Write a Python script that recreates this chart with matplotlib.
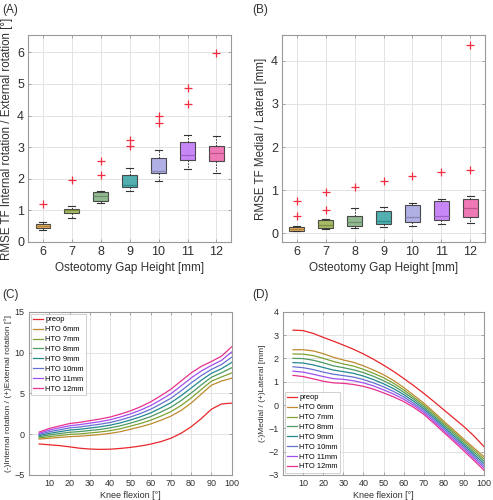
import matplotlib
matplotlib.use("Agg")
import matplotlib.pyplot as plt
import numpy as np

plt.rcParams['font.family'] = ['Liberation Sans', 'DejaVu Sans']

# ---------------- data ----------------
gap_labels = ['6', '7', '8', '9', '10', '11', '12']
box_colors = ['#E0A450', '#9DB455', '#86B386', '#3FA8A8', '#A8A8E2', '#C27AF6', '#EE6AAE']

# Panel A: RMSE internal/external rotation [deg]
a_q1 = [0.43, 0.91, 1.31, 1.74, 2.17, 2.60, 2.56]
a_med = [0.50, 1.00, 1.45, 1.80, 2.26, 2.74, 2.81]
a_q3 = [0.58, 1.05, 1.58, 2.13, 2.66, 3.16, 3.05]
a_lo = [0.39, 0.76, 1.23, 1.62, 1.94, 2.31, 2.18]
a_hi = [0.64, 1.15, 1.62, 2.33, 2.90, 3.40, 3.34]
a_out = [[1.21], [1.97], [2.13, 2.56], [3.03, 3.24], [3.77, 3.98], [4.37, 4.87], [5.98]]

# Panel B: RMSE medial/lateral [mm]
b_q1 = [0.06, 0.12, 0.16, 0.21, 0.27, 0.31, 0.38]
b_med = [0.10, 0.19, 0.27, 0.29, 0.37, 0.41, 0.59]
b_q3 = [0.14, 0.30, 0.41, 0.51, 0.65, 0.76, 0.79]
b_lo = [0.05, 0.09, 0.13, 0.14, 0.18, 0.21, 0.25]
b_hi = [0.16, 0.33, 0.59, 0.62, 0.70, 0.79, 0.87]
b_out = [[0.40, 0.75], [0.55, 0.96], [1.08], [1.21], [1.32], [1.43], [1.48, 4.37]]

flexion = [5, 10, 15, 20, 25, 30, 35, 40, 45, 50, 55, 60, 65, 70, 75, 80, 85, 90, 95, 100]
series_names = ['preop', 'HTO 6mm', 'HTO 7mm', 'HTO 8mm', 'HTO 9mm', 'HTO 10mm', 'HTO 11mm', 'HTO 12mm']
line_colors = ['#E8262B', '#BF8A2E', '#7EA232', '#4E9A62', '#23898F', '#6670D2', '#A04FF0', '#E8308C']

# Panel C: internal(-)/external(+) rotation [deg]
c_preop = [-1.2, -1.3, -1.4, -1.55, -1.72, -1.82, -1.86, -1.84, -1.75, -1.62, -1.45, -1.22, -0.92, -0.5, 0.1, 0.9, 1.9, 3.05, 3.7, 3.8]
c_6 = [-0.6, -0.5, -0.4, -0.3, -0.25, -0.15, -0.05, 0.1, 0.3, 0.6, 0.9, 1.25, 1.7, 2.2, 2.9, 3.8, 4.9, 6.0, 6.5, 6.85]
c_7 = [-0.46, -0.3, -0.17, -0.03, 0.03, 0.15, 0.27, 0.43, 0.66, 0.98, 1.31, 1.7, 2.2, 2.75, 3.5, 4.42, 5.47, 6.48, 7.01, 7.49]
c_8 = [-0.32, -0.1, 0.07, 0.23, 0.32, 0.45, 0.58, 0.77, 1.02, 1.35, 1.72, 2.15, 2.7, 3.3, 4.1, 5.03, 6.03, 6.97, 7.52, 8.13]
c_9 = [-0.18, 0.1, 0.3, 0.5, 0.6, 0.75, 0.9, 1.1, 1.38, 1.73, 2.13, 2.6, 3.2, 3.85, 4.7, 5.65, 6.6, 7.45, 8.02, 8.78]
c_10 = [-0.04, 0.3, 0.53, 0.77, 0.88, 1.05, 1.22, 1.43, 1.73, 2.1, 2.53, 3.05, 3.7, 4.4, 5.3, 6.27, 7.17, 7.93, 8.53, 9.42]
c_11 = [0.1, 0.5, 0.77, 1.03, 1.17, 1.35, 1.53, 1.77, 2.09, 2.48, 2.94, 3.5, 4.2, 4.95, 5.9, 6.88, 7.73, 8.42, 9.04, 10.06]
c_12 = [0.25, 0.7, 1.0, 1.3, 1.45, 1.65, 1.85, 2.1, 2.45, 2.85, 3.35, 3.95, 4.7, 5.5, 6.5, 7.5, 8.3, 8.9, 9.55, 10.7]

# Panel D: medial(-)/lateral(+) [mm]
d_preop = [3.21, 3.19, 3.07, 2.9, 2.74, 2.57, 2.39, 2.19, 1.96, 1.71, 1.44, 1.14, 0.83, 0.5, 0.15, -0.21, -0.57, -0.93, -1.33, -1.79]
d_6 = [2.37, 2.37, 2.32, 2.2, 2.05, 1.93, 1.83, 1.68, 1.5, 1.3, 1.05, 0.75, 0.42, 0.08, -0.3, -0.7, -1.08, -1.47, -1.85, -2.22]
d_7 = [2.19, 2.18, 2.12, 2.0, 1.87, 1.76, 1.67, 1.53, 1.36, 1.17, 0.93, 0.65, 0.33, 0.0, -0.38, -0.78, -1.16, -1.55, -1.94, -2.32]
d_8 = [2.0, 1.99, 1.92, 1.81, 1.68, 1.6, 1.51, 1.39, 1.23, 1.04, 0.82, 0.55, 0.25, -0.08, -0.46, -0.86, -1.24, -1.64, -2.03, -2.41]
d_9 = [1.82, 1.8, 1.72, 1.61, 1.5, 1.43, 1.36, 1.24, 1.09, 0.91, 0.7, 0.45, 0.16, -0.16, -0.54, -0.94, -1.33, -1.72, -2.12, -2.51]
d_10 = [1.64, 1.6, 1.52, 1.41, 1.32, 1.26, 1.2, 1.09, 0.95, 0.78, 0.58, 0.35, 0.07, -0.24, -0.62, -1.02, -1.41, -1.8, -2.2, -2.61]
d_11 = [1.45, 1.41, 1.32, 1.22, 1.13, 1.1, 1.04, 0.95, 0.82, 0.65, 0.47, 0.25, -0.01, -0.32, -0.7, -1.1, -1.49, -1.88, -2.29, -2.7]
d_12 = [1.27, 1.22, 1.12, 1.02, 0.95, 0.93, 0.88, 0.8, 0.68, 0.52, 0.35, 0.15, -0.1, -0.4, -0.78, -1.18, -1.57, -1.97, -2.38, -2.8]

# ---------------- styling ----------------
spine_c = '#9A9A9A'
grid_c = '#E3E3E3'
text_c = '#303030'

fig = plt.figure(figsize=(4.93, 5.00), dpi=100)

def style_axes(ax, tick_fs):
    for s in ax.spines.values():
        s.set_color(spine_c)
        s.set_linewidth(0.8)
    ax.tick_params(direction='in', length=2.5, width=0.6, color=spine_c,
                   labelsize=tick_fs, labelcolor=text_c, top=True, right=True,
                   labeltop=False, labelright=False, pad=3)
    ax.grid(True, color=grid_c, linewidth=0.7)
    ax.set_axisbelow(True)

def darker(c, f=0.7):
    rgb = np.array(matplotlib.colors.to_rgb(c))
    return tuple(rgb * f)

def draw_box(ax, q1, med, q3, lo, hi, out):
    stats = []
    for i in range(len(q1)):
        stats.append(dict(q1=q1[i], med=med[i], q3=q3[i], whislo=lo[i], whishi=hi[i],
                          fliers=out[i], label=gap_labels[i]))
    bp = ax.bxp(stats, positions=range(1, len(q1) + 1), widths=0.5, patch_artist=True,
                capwidths=0.25,
                boxprops=dict(linewidth=0.8, edgecolor='#3A3A3A'),
                whiskerprops=dict(linestyle=(0, (1.5, 1.5)), linewidth=0.7, color='#333333'),
                capprops=dict(linewidth=0.8, color='#333333'),
                flierprops=dict(marker='+', markeredgecolor='#F03040', markersize=6,
                                markeredgewidth=0.9, linestyle='none'),
                medianprops=dict(linewidth=0.9))
    for patch, c in zip(bp['boxes'], box_colors):
        patch.set_facecolor(c)
        patch.set_alpha(0.9)
    for m, c in zip(bp['medians'], box_colors):
        m.set_color(darker(c, 0.8))
    ax.set_xlim(0.5, len(q1) + 0.5)

# Panel A
axA = fig.add_axes([0.0574, 0.516, 0.411, 0.414])
draw_box(axA, a_q1, a_med, a_q3, a_lo, a_hi, a_out)
axA.set_ylim(0, 6.55)
axA.set_yticks(range(0, 7))
style_axes(axA, 9)
axA.set_xlabel('Osteotomy Gap Height [mm]', fontsize=8.5, color=text_c, labelpad=3)
axA.set_ylabel('RMSE TF Internal rotation / External rotation [°]', fontsize=8.3,
               color=text_c, labelpad=3)

# Panel B
axB = fig.add_axes([0.5724, 0.516, 0.411, 0.414])
draw_box(axB, b_q1, b_med, b_q3, b_lo, b_hi, b_out)
axB.set_ylim(-0.2, 4.6)
axB.set_yticks(range(0, 5))
style_axes(axB, 9)
axB.set_xlabel('Osteotomy Gap Height [mm]', fontsize=8.5, color=text_c, labelpad=3)
axB.set_ylabel('RMSE TF Medial / Lateral [mm]', fontsize=8.3, color=text_c, labelpad=3)

# Panel C
axC = fig.add_axes([0.0588, 0.05, 0.411, 0.3266])
c_series = [c_preop, c_6, c_7, c_8, c_9, c_10, c_11, c_12]
for ys, name, col in zip(c_series, series_names, line_colors):
    axC.plot(flexion, ys, color=col, linewidth=0.9, label=name)
axC.set_xlim(0, 100)
axC.set_ylim(-5, 15)
axC.set_xticks(range(10, 101, 10))
axC.set_yticks(range(-5, 16, 5))
style_axes(axC, 6.5)
axC.set_xlabel('Knee flexion [°]', fontsize=6.5, color=text_c, labelpad=2)
axC.set_ylabel('(-)Internal rotation / (+)External rotation [°]', fontsize=6, color=text_c, labelpad=2)
legC = axC.legend(loc='upper left', fontsize=5.4, handlelength=1.3, handletextpad=0.3,
                  labelspacing=0.35, borderpad=0.3, borderaxespad=0.3, frameon=True, fancybox=False)
legC.get_frame().set_edgecolor('#BBBBBB')
legC.get_frame().set_linewidth(0.6)

# Panel D
axD = fig.add_axes([0.574, 0.05, 0.408, 0.3266])
d_series = [d_preop, d_6, d_7, d_8, d_9, d_10, d_11, d_12]
for ys, name, col in zip(d_series, series_names, line_colors):
    axD.plot(flexion, ys, color=col, linewidth=0.9, label=name)
axD.set_xlim(0, 100)
axD.set_ylim(-3, 4)
axD.set_xticks(range(10, 101, 10))
axD.set_yticks(range(-3, 5))
style_axes(axD, 6.5)
axD.set_xlabel('Knee flexion [°]', fontsize=6.5, color=text_c, labelpad=2)
axD.set_ylabel('(-)Medial / (+)Lateral [mm]', fontsize=6, color=text_c, labelpad=2)
legD = axD.legend(loc='lower left', fontsize=5.4, handlelength=1.3, handletextpad=0.3,
                  labelspacing=0.35, borderpad=0.3, borderaxespad=0.3, frameon=True, fancybox=False)
legD.get_frame().set_edgecolor('#BBBBBB')
legD.get_frame().set_linewidth(0.6)

# Panel letters
fig.text(0.004, 0.992, '(A)', fontsize=8.5, color=text_c, va='top', ha='left')
fig.text(0.511, 0.992, '(B)', fontsize=8.5, color=text_c, va='top', ha='left')
fig.text(0.004, 0.422, '(C)', fontsize=8.5, color=text_c, va='top', ha='left')
fig.text(0.511, 0.422, '(D)', fontsize=8.5, color=text_c, va='top', ha='left')

fig.savefig('out.png', dpi=100)
